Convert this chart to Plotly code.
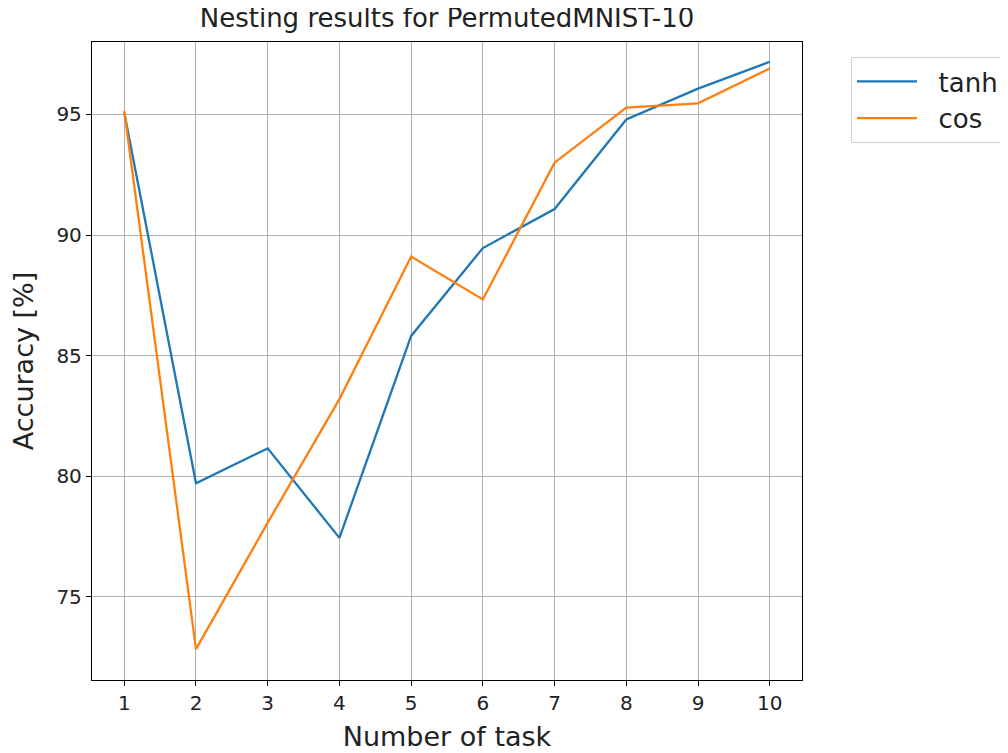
import plotly.graph_objects as go

tasks = [1, 2, 3, 4, 5, 6, 7, 8, 9, 10]
tanh_acc = [95.08, 79.71, 81.16, 77.45, 85.82, 89.46, 91.08, 94.79, 96.07, 97.18]
cos_acc = [95.14, 72.84, 78.08, 83.2, 89.11, 87.33, 93.0, 95.28, 95.46, 96.9]
y_ticks = [75, 80, 85, 90, 95]
series_names = ["\u00a0\u00a0tanh", "\u00a0\u00a0cos"]

FONT = "DejaVu Sans"
TXT = "#222"

fig = go.Figure()
fig.add_trace(go.Scatter(x=tasks, y=tanh_acc, mode="lines", name=series_names[0],
                         line=dict(color="#1f77b4", width=2.3)))
fig.add_trace(go.Scatter(x=tasks, y=cos_acc, mode="lines", name=series_names[1],
                         line=dict(color="#ff7f0e", width=2.3)))

axis_common = dict(
    showgrid=True, gridcolor="#b0b0b0", gridwidth=1.4,
    showline=True, linecolor="black", linewidth=1.3, mirror=True,
    ticks="outside", ticklen=5, tickwidth=1.2, tickcolor="black",
    zeroline=False, automargin=False,
    tickfont=dict(family=FONT, size=20, color=TXT),
)

W, H = 1000, 745
fig.update_layout(
    width=W, height=H,
    margin=dict(l=84, r=206, t=34, b=73),
    paper_bgcolor="white", plot_bgcolor="white",
    title=dict(text="Nesting results for PermutedMNIST-10", x=(84 + 794) / 2 / W,
               xanchor="center", y=1 - 10 / H, yanchor="middle", pad=dict(t=0, b=0),
               font=dict(family=FONT, size=26, color=TXT)),
    xaxis=dict(range=[0.55, 10.45], tickvals=tasks,
               title=dict(text="Number of task", font=dict(family=FONT, size=27, color=TXT), standoff=12),
               **axis_common),
    yaxis=dict(range=[71.56, 98.0], tickvals=y_ticks,
               title=dict(text="Accuracy [%]", font=dict(family=FONT, size=27, color=TXT), standoff=16),
               **axis_common),
    legend=dict(xref="container", yref="container",
                x=(851 - 8) / W, y=1 - (57 - 8) / H, xanchor="left", yanchor="top",
                bordercolor="#d0d0d0", borderwidth=1, bgcolor="white",
                font=dict(family=FONT, size=26, color=TXT),
                itemwidth=60, tracegroupgap=4),
    showlegend=True,
)

fig.write_html("out.html")
